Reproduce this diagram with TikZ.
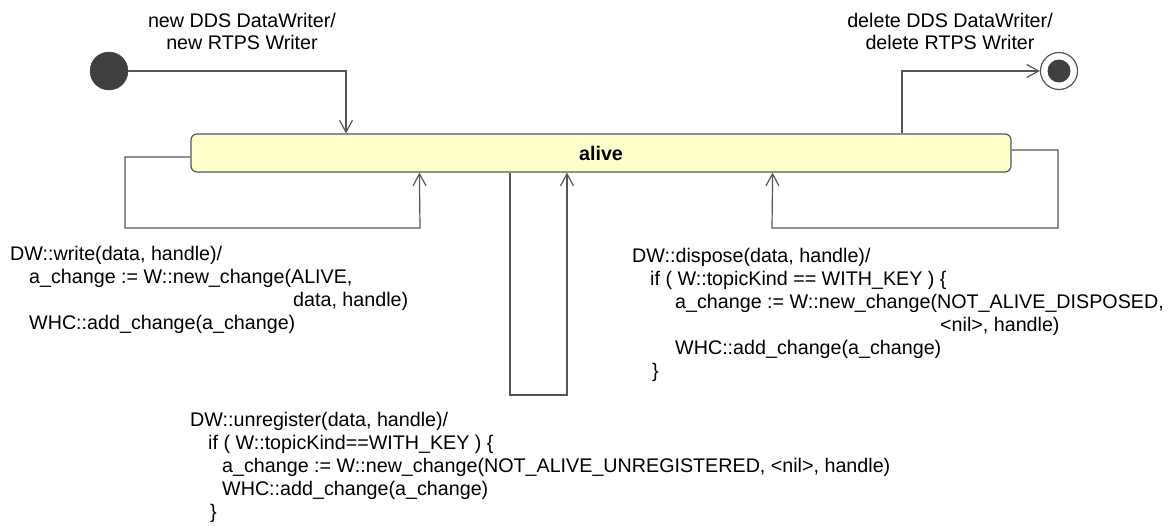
\documentclass[tikz,border=0pt]{standalone}
\usepackage{fontspec}
\setmainfont{Liberation Sans}
\usetikzlibrary{arrows.meta, positioning}
\definecolor{linegray}{HTML}{555555}
\definecolor{dotgray}{HTML}{404040}
\definecolor{stateyellow}{HTML}{FFFFCC}
\tikzstyle{state}=[rectangle, rounded corners=6pt, minimum width=820pt, minimum height=38pt, inner sep=0pt, draw=linegray, fill=stateyellow, line width=1.2pt, font=\fontsize{19.7}{23}\selectfont\bfseries]
\tikzstyle{initial}=[circle, minimum size=38pt, inner sep=0pt, draw=dotgray, fill=dotgray]
\tikzstyle{final}=[circle, minimum size=37pt, inner sep=0pt, draw=linegray, fill=white, line width=1.2pt, path picture={\fill[dotgray] (path picture bounding box.center) circle (11.5pt);}]
\tikzstyle{event}=[inner sep=0pt, align=left, anchor=north west, font=\fontsize{19.7}{23}\selectfont]
\tikzstyle{trans}=[line width=1.2pt, draw=linegray, -{Straight Barb[length=12pt, width=13pt]}]

\begin{document}
\begin{tikzpicture}[x=1pt, y=-1pt]
		\useasboundingbox (0,0) rectangle (1169,525);
		\node (start) [initial] at (109,71) {};
		\node (stop) [final] at (1059,71) {};
		\node (alive) [state] at (601,153) {alive};
		
		\node (newlbl) [inner sep=0pt, align=center, font=\fontsize{19.7}{22}\selectfont] at (242,31) {new DDS DataWriter/\\new RTPS Writer};
		\node (dellbl) [inner sep=0pt, align=center, font=\fontsize{19.7}{22}\selectfont] at (950,31) {delete DDS DataWriter/\\delete RTPS Writer};
		
		\node (writelbl) [event] at (10,246) {DW::write(data, handle)/\\
			\hspace*{19pt}a\_change := W::new\_change(ALIVE,\\
			\hspace*{283pt}data, handle)\\
			\hspace*{19pt}WHC::add\_change(a\_change)};
		\node (disposelbl) [event] at (632,248) {DW::dispose(data, handle)/\\
			\hspace*{18pt}if ( W::topicKind == WITH\_KEY ) \{\\
			\hspace*{43pt}a\_change := W::new\_change(NOT\_ALIVE\_DISPOSED,\\
			\hspace*{308pt}<nil>, handle)\\
			\hspace*{43pt}WHC::add\_change(a\_change)\\
			\hspace*{20pt}\}};
		\node (unreglbl) [event] at (190,412) {DW::unregister(data, handle)/\\
			\hspace*{18pt}if ( W::topicKind==WITH\_KEY ) \{\\
			\hspace*{32pt}a\_change := W::new\_change(NOT\_ALIVE\_UNREGISTERED, <nil>, handle)\\
			\hspace*{32pt}WHC::add\_change(a\_change)\\
			\hspace*{20pt}\}};
		
		\draw [trans] (start.east) -| ([xshift=-255pt]alive.north);
		\draw [trans] ([xshift=301pt]alive.north) |- (stop.west);
		\draw [trans] ([yshift=-4pt]alive.west) -- (125,157) -- (125,228) -- (420,228) -- ([xshift=229pt]alive.south west);
		\draw [trans] ([yshift=3pt]alive.east) -- (1058,150) -- (1058,228) -- (772,228) -- ([xshift=-239pt]alive.south east);
		\draw [trans] ([xshift=-91pt]alive.south) -- (510,395) -- (567,395) -- ([xshift=-34pt]alive.south);
	\end{tikzpicture}
\end{document}
